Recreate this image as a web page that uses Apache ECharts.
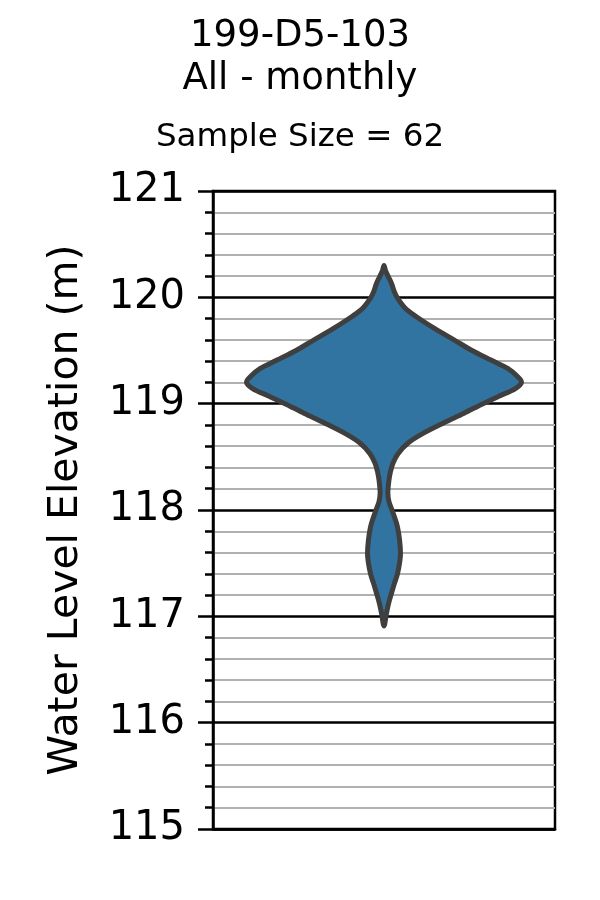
<!DOCTYPE html>
<html><head><meta charset="utf-8">
<script src="https://cdn.jsdelivr.net/npm/echarts@6/dist/echarts.min.js"></script>
<style>html,body{margin:0;padding:0;background:#fff}#c{width:600px;height:900px}</style>
</head><body><div id="c"></div>
<script>
const titleLines = ['199-D5-103', 'All - monthly'];
const sampleLabel = 'Sample Size = 62';
const yAxisName = 'Water Level Elevation (m)';
const yMin = 115, yMax = 121, yStep = 1;

// Violin outline: elevation (m) and relative half-width (density, max = 1)
const elevations = [120.30,120.25,120.20,120.13,120.06,120.00,119.90,119.82,119.71,119.60,
  119.50,119.41,119.33,119.26,119.20,119.14,119.07,119.00,118.91,118.82,
  118.72,118.63,118.53,118.44,118.36,118.28,118.16,118.08,118.00,117.92,
  117.84,117.72,117.59,117.50,117.40,117.31,117.22,117.12,117.03,116.91];
const density = [0,0.011,0.029,0.055,0.073,0.095,0.153,0.233,0.364,0.509,
  0.640,0.778,0.902,0.967,1.000,0.953,0.836,0.720,0.582,0.436,
  0.284,0.175,0.102,0.065,0.047,0.036,0.028,0.036,0.058,0.080,
  0.098,0.113,0.120,0.113,0.098,0.076,0.055,0.033,0.018,0];

const maxHalf = 0.804; // half-width of widest part in x-axis units
const FONT = 'DejaVu Sans';

function catmullRomClosed(P) {
  const n = P.length;
  let d = 'M' + P[0][0] + ' ' + P[0][1];
  for (let i = 0; i < n; i++) {
    const p0 = P[(i - 1 + n) % n], p1 = P[i], p2 = P[(i + 1) % n], p3 = P[(i + 2) % n];
    const c1 = [p1[0] + (p2[0] - p0[0]) / 6, p1[1] + (p2[1] - p0[1]) / 6];
    const c2 = [p2[0] - (p3[0] - p1[0]) / 6, p2[1] - (p3[1] - p1[1]) / 6];
    d += ' C' + c1[0] + ' ' + c1[1] + ' ' + c2[0] + ' ' + c2[1] + ' ' + p2[0] + ' ' + p2[1];
  }
  return d + ' Z';
}

const chart = echarts.init(document.getElementById('c'), null, {renderer: 'canvas'});
chart.setOption({
  animation: false,
  backgroundColor: '#fff',
  title: [
    {text: titleLines.join('\n'), left: 'center', top: 10,
     textStyle: {fontFamily: FONT, fontSize: 37, fontWeight: 'normal', color: '#000', lineHeight: 43}},
    {text: sampleLabel, left: 'center', top: 113,
     textStyle: {fontFamily: FONT, fontSize: 32.5, fontWeight: 'normal', color: '#000', lineHeight: 40}}
  ],
  grid: {left: 213, right: 45, top: 191, bottom: 71, show: true, borderColor: '#000', borderWidth: 2.5, backgroundColor: 'transparent'},
  xAxis: {type: 'value', min: -1, max: 1,
    axisLine: {show: true, onZero: false, lineStyle: {color: '#000', width: 2.5}},
    axisTick: {show: false}, axisLabel: {show: false}, splitLine: {show: false}},
  yAxis: {type: 'value', min: yMin, max: yMax, interval: yStep,
    axisLine: {show: true, onZero: false, lineStyle: {color: '#000', width: 2.5}},
    axisTick: {show: true, length: 15, lineStyle: {color: '#000', width: 2.5}},
    minorTick: {show: true, splitNumber: 5, length: 8, lineStyle: {color: '#000', width: 2.5}},
    splitLine: {show: true, lineStyle: {color: '#000', width: 2.5}},
    minorSplitLine: {show: true, lineStyle: {color: '#b0b0b0', width: 2.2}},
    axisLabel: {fontFamily: FONT, fontSize: 40, color: '#000', margin: 28},
    name: yAxisName, nameLocation: 'middle', nameGap: 126,
    nameTextStyle: {fontFamily: FONT, fontSize: 41, color: '#000'}},
  series: [{
    type: 'custom',
    data: [[0, (yMin + yMax) / 2]],
    renderItem: function (params, api) {
      const right = [], left = [];
      for (let i = 0; i < elevations.length; i++) {
        right.push(api.coord([density[i] * maxHalf, elevations[i]]));
      }
      for (let i = elevations.length - 1; i >= 0; i--) {
        left.push(api.coord([-density[i] * maxHalf, elevations[i]]));
      }
      const pts = right.concat(left.slice(1, left.length - 1));
      return {type: 'path', shape: {pathData: catmullRomClosed(pts), layout: 'cover'},
        style: {fill: '#3274a1', stroke: '#3f3f3f', lineWidth: 5, lineJoin: 'round'}};
    }
  }]
});
</script></body></html>
